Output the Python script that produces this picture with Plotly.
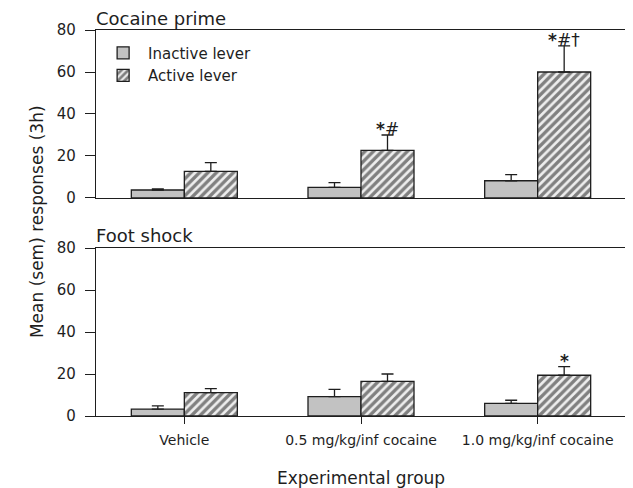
import plotly.graph_objects as go

groups = ["Vehicle", "0.5 mg/kg/inf cocaine", "1.0 mg/kg/inf cocaine"]
prime_inactive = [3.8, 5.1, 8.2]
prime_inactive_sem = [0.5, 2.2, 2.9]
prime_active = [12.7, 22.7, 60.0]
prime_active_sem = [4.1, 7.3, 12.4]
shock_inactive = [3.3, 9.2, 6.0]
shock_inactive_sem = [1.5, 3.5, 1.5]
shock_active = [11.1, 16.5, 19.4]
shock_active_sem = [1.9, 3.5, 4.1]
y_ticks = [0, 20, 40, 60, 80]

FONT = "DejaVu Sans, Verdana, sans-serif"
INK = "#1e1e1e"
fig = go.Figure()

def add_panel(inact, inact_sem, act, act_sem, xa, ya, show):
    fig.add_trace(go.Bar(
        x=groups, y=inact, name="Inactive lever", showlegend=show,
        xaxis=xa, yaxis=ya, offsetgroup="a", legendgroup="a",
        marker=dict(color="#c2c2c2", line=dict(color=INK, width=1.3)),
        error_y=dict(type="data", symmetric=False, array=inact_sem,
                     arrayminus=[0]*len(inact_sem), color=INK,
                     thickness=1.3, width=6)))
    fig.add_trace(go.Bar(
        x=groups, y=act, name="Active lever", showlegend=show,
        xaxis=xa, yaxis=ya, offsetgroup="b", legendgroup="b",
        marker=dict(color="#eeeeee", line=dict(color=INK, width=1.3),
                    pattern=dict(shape="/", fgcolor="#111111", bgcolor="#eeeeee",
                                 size=6, solidity=0.55)),
        error_y=dict(type="data", symmetric=False, array=act_sem,
                     arrayminus=[0]*len(act_sem), color=INK,
                     thickness=1.3, width=6)))

add_panel(prime_inactive, prime_inactive_sem, prime_active, prime_active_sem, "x", "y", True)
add_panel(shock_inactive, shock_inactive_sem, shock_active, shock_active_sem, "x2", "y2", False)

axis_common = dict(showline=True, linecolor=INK, linewidth=1.3, mirror=True,
                   showgrid=False, zeroline=False)
# page body has an 8px margin, so the figure is sized/offset to compensate
fig.update_layout(
    width=625, height=480,
    margin=dict(l=88, r=7, t=22, b=72),
    paper_bgcolor="white", plot_bgcolor="white",
    font=dict(family=FONT, size=15, color=INK),
    barmode="group", bargap=0.4, bargroupgap=0,
    xaxis=dict(domain=[0, 1], anchor="y", range=[-0.5, 2.5], showticklabels=False,
               ticks="", **axis_common),
    yaxis=dict(domain=[0.5648, 1], anchor="x", range=[0, 80], tickvals=y_ticks,
               ticks="outside", ticklen=10, tickcolor=INK, tickwidth=1.3,
               ticklabelstandoff=6, tickfont=dict(size=15), **axis_common),
    xaxis2=dict(domain=[0, 1], anchor="y2", range=[-0.5, 2.5], ticks="outside",
                ticklen=7, tickcolor=INK, tickwidth=1.3, tickfont=dict(size=14),
                ticklabelstandoff=4, **axis_common),
    yaxis2=dict(domain=[0, 0.4352], anchor="x2", range=[0, 80], tickvals=y_ticks,
                ticks="outside", ticklen=10, tickcolor=INK, tickwidth=1.3,
                ticklabelstandoff=6, tickfont=dict(size=15), **axis_common),
    legend=dict(x=0.004, y=0.983, xanchor="left", yanchor="top", bgcolor="rgba(0,0,0,0)",
                font=dict(size=15), tracegroupgap=0, itemwidth=40),
)

ann = [
    dict(text="Cocaine prime", x=0.0, xref="paper", y=1.0, yref="paper", yanchor="bottom",
         xanchor="left", showarrow=False, font=dict(size=18), yshift=-1, xshift=-2),
    dict(text="Foot shock", x=0.0, xref="paper", y=0.4352, yref="paper", yanchor="bottom",
         xanchor="left", showarrow=False, font=dict(size=18), yshift=0, xshift=-2),
    dict(text="Mean (sem) responses (3h)", x=-0.134, xref="paper", y=0.505, yref="paper",
         textangle=-90, showarrow=False, font=dict(size=17)),
    dict(text="Experimental group", x=0.5, xref="paper", y=-0.13, yref="paper",
         yanchor="top", showarrow=False, font=dict(size=17)),
]
# significance markers
marks = [("x", "y", 1, prime_active[1] + prime_active_sem[1], "<b>*</b>#"),
         ("x", "y", 2, prime_active[2] + prime_active_sem[2], "<b>*</b>#†"),
         ("x2", "y2", 2, shock_active[2] + shock_active_sem[2], "<b>*</b>")]
for xa, ya, gi, top, txt in marks:
    ann.append(dict(text=txt, x=gi, xref=xa, y=top, yref=ya, yanchor="bottom",
                    xshift=26.5, showarrow=False, font=dict(size=17), yshift=-6))
fig.update_layout(annotations=ann)

fig.write_html("out.html")
